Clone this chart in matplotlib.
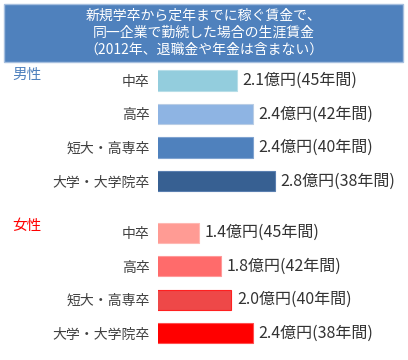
"""Lifetime wages by education level (male / female), horizontal bars."""

import matplotlib
matplotlib.use("Agg")
import matplotlib.pyplot as plt
from matplotlib.patches import Rectangle

plt.rcParams["font.family"] = ["Noto Sans CJK JP", "DejaVu Sans"]

TITLE = "新規学卒から定年までに稼ぐ賃金で、\n同一企業で勤続した場合の生涯賃金\n（2012年、退職金や年金は含まない）"

categories = ["中卒", "高卒", "短大・高専卒", "大学・大学院卒"]
years = [45, 42, 40, 38]
male_wage = [2.1, 2.4, 2.4, 2.8]      # 億円
female_wage = [1.4, 1.8, 2.0, 2.4]    # 億円

male_colors = ["#93cddd", "#8eb4e3", "#4f81bd", "#376092"]
male_edges = ["#b7dee8", "#b9cde5", "#7fa3d0", "#5a7fb0"]
female_colors = ["#ff9b94", "#ff6b6b", "#ee4848", "#ff0000"]
female_edges = ["#ffb8b3", "#ff9999", "#ff2020", "#ff5050"]

X_MIN, X_MAX = 0.644, 5.11


def draw_group(ax, values, colors, edges):
    pos = list(range(len(categories)))
    bars = ax.barh(pos, values, height=0.6, color=colors, edgecolor=edges, linewidth=0.8)
    ax.set_xlim(X_MIN, X_MAX)
    ax.set_ylim(len(categories) - 0.5, -0.5)
    ax.set_yticks(pos)
    ax.set_yticklabels(categories, fontsize=10, color="#404040")
    ax.tick_params(axis="y", length=0, pad=6)
    ax.set_xticks([])
    for s in ax.spines.values():
        s.set_visible(False)
    ax.patch.set_alpha(0)
    for bar, v, y in zip(bars, values, years):
        ax.annotate(f"{v:.1f}億円({y}年間)",
                    (bar.get_width(), bar.get_y() + bar.get_height() / 2),
                    xytext=(4, 0), textcoords="offset points",
                    ha="left", va="center", fontsize=11.5, color="#333333")


def main():
    fig = plt.figure(figsize=(4.08, 3.6), dpi=100)

    # title box
    fig.patches.append(Rectangle((4 / 408, 1 - 62 / 360), 399 / 408, 58 / 360,
                                 transform=fig.transFigure, facecolor="#4f81bd",
                                 edgecolor="#a6bfdf", linewidth=1.0))
    fig.text(0.5, 1 - 32.5 / 360, TITLE, ha="center", va="center",
             color="white", fontsize=10, linespacing=1.25)

    ax_m = fig.add_axes([158 / 408, 1 - 197.75 / 360, 242 / 408, 134 / 360])
    draw_group(ax_m, male_wage, male_colors, male_edges)

    ax_f = fig.add_axes([158 / 408, 1 - 350 / 360, 242 / 408, 134 / 360])
    draw_group(ax_f, female_wage, female_colors, female_edges)

    fig.text(12 / 408, 1 - 75 / 360, "男性", ha="left", va="center",
             fontsize=10.5, color="#4f81bd")
    fig.text(12 / 408, 1 - 226 / 360, "女性", ha="left", va="center",
             fontsize=10.5, color="#ff0000")

    fig.savefig("out.png", dpi=100)


if __name__ == "__main__":
    main()
